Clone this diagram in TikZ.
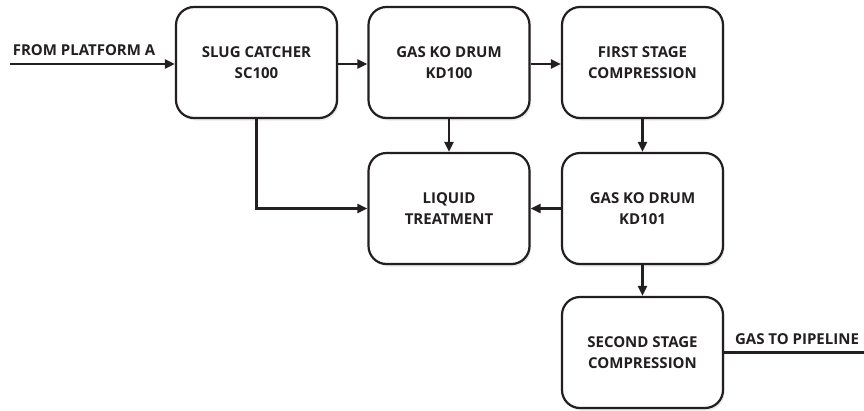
\documentclass[tikz,border=0pt]{standalone}
\usepackage{fontspec}
\setmainfont{Open Sans}
\usetikzlibrary{arrows.meta,shadows}
\definecolor{ink}{HTML}{231F20}
\begin{document}
\begin{tikzpicture}[x=1pt,y=-1pt,
  unit/.style={draw=ink, line width=2.2pt, rounded corners=18pt, fill=white,
    minimum width=161pt, minimum height=111pt, align=center,
    font=\fontsize{15}{21}\selectfont\bfseries, text=ink, text depth=0pt,
    drop shadow={opacity=0.18, shadow xshift=1.5pt, shadow yshift=-2.5pt}},
  flow/.style={draw=ink, line width=2.2pt, -{Triangle[length=10pt,width=9pt]}},
  lbl/.style={font=\fontsize{15}{21}\selectfont\bfseries, text=ink, inner sep=0pt}]
\useasboundingbox (0,0) rectangle (864,410);
\node[unit] (sc) at (256.5,62.5) {SLUG CATCHER\\SC100};
\node[unit] (kd1) at (449,62.5) {GAS KO DRUM\\KD100};
\node[unit] (fs) at (642.5,62.5) {FIRST STAGE\\COMPRESSION};
\node[unit] (lt) at (449,208.5) {LIQUID\\TREATMENT};
\node[unit] (kd2) at (642.5,208.5) {GAS KO DRUM\\KD101};
\node[unit] (ss) at (642.5,352.5) {SECOND STAGE\\COMPRESSION};
\coordinate (in) at (10,64);
\coordinate (out) at (864,352.5);
\node[lbl] (inl) at (84,50) {FROM PLATFORM A};
\node[lbl] (outl) at (797,339) {GAS TO PIPELINE};
\draw[flow] (in) -- (sc.west |- in);
\draw[flow] (sc.east |- in) -- (kd1.west |- in);
\draw[flow] (kd1.east |- in) -- (fs.west |- in);
\draw[flow] (sc.south) -- (sc.south |- lt.west) -- (lt.west);
\draw[flow] (kd1.south) -- (lt.north);
\draw[flow] (fs.south) -- (kd2.north);
\draw[flow] (kd2.west) -- (lt.east);
\draw[flow] (kd2.south) -- (ss.north);
\draw[draw=ink, line width=2.2pt] (ss.east) -- (out);
\end{tikzpicture}
\end{document}
